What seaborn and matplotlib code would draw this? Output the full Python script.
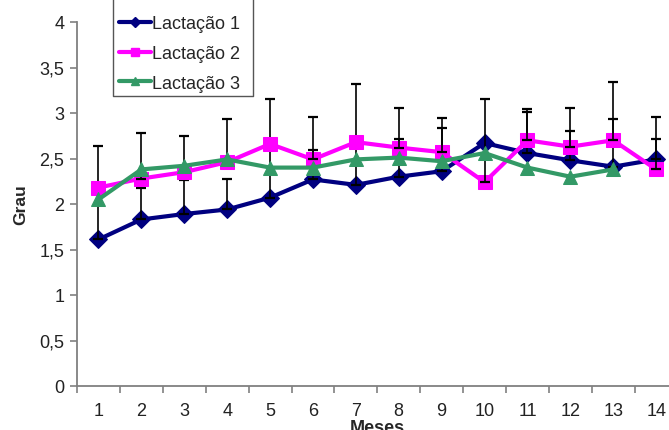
import numpy as np
import pandas as pd
import matplotlib
matplotlib.use("Agg")
import matplotlib.pyplot as plt
import seaborn as sns
from matplotlib.lines import Line2D

months = list(range(1, 15))
series_names = ["Lactação 1", "Lactação 2", "Lactação 3"]

lact1 = [1.61, 1.83, 1.89, 1.94, 2.07, 2.27, 2.21, 2.30, 2.36, 2.67, 2.56, 2.48, 2.41, 2.49]
lact2 = [2.18, 2.28, 2.35, 2.46, 2.66, 2.49, 2.68, 2.62, 2.57, 2.24, 2.70, 2.63, 2.70, 2.38]
lact3 = [2.05, 2.38, 2.42, 2.49, 2.40, 2.40, 2.49, 2.51, 2.47, 2.56, 2.40, 2.30, 2.38, np.nan]

err1 = [1.03, 0.35, 0.37, 0.33, 1.08, 0.32, 1.11, 0.41, 0.47, np.nan, 0.45, 0.32, 0.52, 0.22]
err2 = [np.nan, 0.50, 0.40, 0.47, np.nan, 0.47, np.nan, 0.43, 0.37, 0.91, 0.34, 0.42, 0.64, 0.58]

yticks = [0, 0.5, 1, 1.5, 2, 2.5, 3, 3.5, 4]
ytick_labels = ["0", "0,5", "1", "1,5", "2", "2,5", "3", "3,5", "4"]

colors = ["#000080", "#FF00FF", "#339966"]
markers = ["D", "s", "^"]
msizes = [9, 10, 10]

sns.set_theme(style="white")
plt.rcParams["font.family"] = ["Liberation Sans", "DejaVu Sans"]

W, H = 669, 431
fig = plt.figure(figsize=(W / 100, H / 100), dpi=100)
ax = fig.add_axes([77 / W, (H - 387) / H, 600.6 / W, 364 / H])

values = [lact1, lact2, lact3]
errs = [err1, err2, None]
z = 2
for name, vals, err, col, mk, ms in zip(series_names, values, errs, colors, markers, msizes):
    df = pd.DataFrame({"Meses": months, "Grau": vals}).dropna()
    sns.lineplot(data=df, x="Meses", y="Grau", ax=ax, color=col, marker=mk,
                 markersize=ms, markeredgecolor=col, linewidth=3,
                 label=name, zorder=z)
    if err is not None:
        e = np.array(err, dtype=float)
        v = np.array(vals, dtype=float)
        m = ~np.isnan(e)
        ax.errorbar(np.array(months)[m], v[m], yerr=[np.zeros(m.sum()), e[m]],
                    fmt="none", ecolor="black", elinewidth=1.2, capsize=3.8,
                    capthick=1.6, zorder=z + 0.5)
    z += 1

ax.set_xlim(0.5, 14.5)
ax.set_ylim(0, 4)
ax.set_xticks(months)
ax.set_xticklabels([str(m) for m in months])
ax.set_xticks(np.arange(0.5, 15, 1), minor=True)
ax.set_yticks(yticks)
ax.set_yticklabels(ytick_labels)

for s in ["top", "right"]:
    ax.spines[s].set_visible(False)
for s in ["left", "bottom"]:
    ax.spines[s].set_color("#808080")
    ax.spines[s].set_linewidth(1.3)

ax.tick_params(axis="y", which="major", left=True, length=5, width=1.2,
               color="#808080", labelsize=13, labelcolor="#222222", pad=4)
ax.tick_params(axis="x", which="major", bottom=True, length=0,
               labelsize=13, labelcolor="#222222", pad=11.5)
ax.tick_params(axis="x", which="minor", bottom=True, length=5, width=1.2,
               color="#808080")

ax.set_xlabel("Meses", fontsize=13, fontweight="bold", labelpad=0)
ax.set_ylabel("Grau", fontsize=12.5, fontweight="bold", labelpad=8)

handles = [Line2D([], [], color=c, marker=mk, markersize=ms * 0.6, linewidth=3,
                  markeredgecolor=c) for c, mk, ms in zip(colors, markers, msizes)]
leg = ax.legend(handles, series_names, loc="upper left",
                bbox_to_anchor=((114 - 77) / 600.6, (387 - 11) / 364),
                frameon=False, fontsize=13, handlelength=1.75,
                handletextpad=0.05, labelspacing=0.7, borderpad=0.3,
                borderaxespad=0)

x0, x1 = 113 / W, 253 / W
yb = (H - 97) / H
fig.add_artist(Line2D([x0, x0, x1, x1], [1.05, yb, yb, 1.05],
                      transform=fig.transFigure, color="#555555", linewidth=1.0))

fig.savefig("out.png", dpi=100)
